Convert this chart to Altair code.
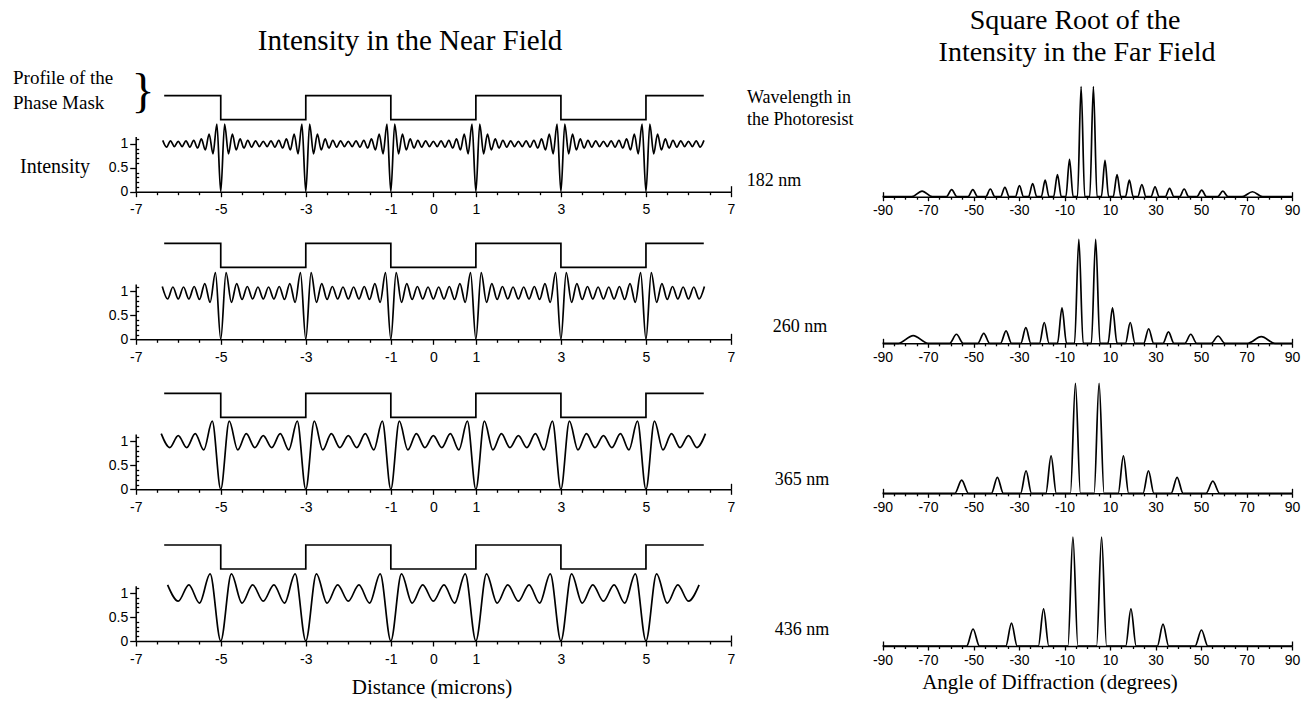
import altair as alt
import pandas as pd

W, H = 1312, 702

# ---------------- texts ----------------
left_title = "Intensity in the Near Field"
right_title = ["Square Root of the", "Intensity in the Far Field"]
mask_label = ["Profile of the", "Phase Mask"]
intensity_label = "Intensity"
wl_header = ["Wavelength in", "the Photoresist"]
wavelengths = ["182 nm", "260 nm", "365 nm", "436 nm"]
left_xlabel = "Distance (microns)"
right_xlabel = "Angle of Diffraction (degrees)"

# ---------------- near-field axes ----------------
dist_ticks = [-7, -5, -3, -1, 0, 1, 3, 5, 7]
dist_minor = [-6.5, -6, -5.5, -4.5, -4, -3.5, -2.5, -2, -1.5, -0.5, 0.5,
              1.5, 2, 2.5, 3.5, 4, 4.5, 5.5, 6, 6.5]
int_ticks = [0, 0.5, 1]
int_minor = [0.1, 0.2, 0.3, 0.4, 0.6, 0.7, 0.8, 0.9, 1.1]

# phase-mask profile (step edges and levels)
mask_x = [-6.33, -5, -3, -1, 1, 3, 5, 6.36]
mask_level = [2.0, 1.5, 2.0, 1.5, 2.0, 1.5, 2.0, 2.0]

# near-field intensity: one mask cell (offset from the dip, intensity)
cell_start = [-7, -5, -3, -1, 1, 3, 5]
nf_off_182 = [0, 0.091, 0.182, 0.273, 0.364, 0.455, 0.545, 0.636, 0.727, 0.818, 0.909,
              1.0, 1.091, 1.182, 1.273, 1.364, 1.455, 1.545, 1.636, 1.727, 1.818, 1.909]
nf_val_182 = [0, 1.41, 0.79, 1.20, 0.87, 1.10, 0.91, 1.07, 0.93, 1.06, 0.94,
              1.05, 0.94, 1.06, 0.93, 1.07, 0.91, 1.10, 0.87, 1.20, 0.79, 1.41]
nf_off_260 = [0, 0.125, 0.25, 0.375, 0.5, 0.625, 0.75, 0.875,
              1.0, 1.125, 1.25, 1.375, 1.5, 1.625, 1.75, 1.875]
nf_val_260 = [0, 1.39, 0.77, 1.16, 0.83, 1.10, 0.84, 1.09,
              0.84, 1.09, 0.84, 1.10, 0.83, 1.16, 0.77, 1.39]
nf_off_365 = [0, 0.2, 0.4, 0.6, 0.8, 1.0, 1.2, 1.4, 1.6, 1.8]
nf_val_365 = [0, 1.42, 0.82, 1.16, 0.87, 1.12, 0.87, 1.16, 0.82, 1.42]
nf_off_436 = [0, 0.25, 0.5, 0.75, 1.0, 1.25, 1.5, 1.75]
nf_val_436 = [0, 1.40, 0.79, 1.17, 0.83, 1.17, 0.79, 1.40]

# ---------------- far-field peaks ----------------
angle_ticks = [-90, -70, -50, -30, -10, 10, 30, 50, 70, 90]
angle_minor = [-85, -80, -75, -65, -60, -55, -45, -40, -35, -25, -20, -15, -5, 0, 5,
               15, 20, 25, 35, 40, 45, 55, 60, 65, 75, 80, 85]
angle_ends = [-90, 90]

ff_c_182 = [-72.6, -59.6, -50.3, -42.6, -36.2, -29.8, -24.0, -18.5, -13.1, -7.8, -2.7,
            2.7, 7.8, 13.1, 18.5, 24.0, 29.8, 36.2, 42.6, 50.3, 59.6, 72.6]
ff_h_182 = [0.05, 0.065, 0.065, 0.07, 0.085, 0.10, 0.12, 0.15, 0.20, 0.34, 1.0,
            1.0, 0.33, 0.20, 0.15, 0.11, 0.09, 0.075, 0.07, 0.06, 0.05, 0.045]
ff_w_182 = [4.5, 2.3, 2.1, 2.0, 1.9, 1.8, 1.8, 1.7, 1.7, 1.6, 1.6,
            1.6, 1.6, 1.7, 1.7, 1.8, 1.8, 1.9, 2.0, 2.1, 2.3, 4.5]

ff_c_260 = [-76.5, -57.5, -45.5, -35.7, -27.0, -18.9, -11.1, -3.7,
            3.7, 11.1, 18.9, 27.0, 35.7, 45.5, 57.5, 76.5]
ff_h_260 = [0.074, 0.087, 0.096, 0.12, 0.15, 0.20, 0.34, 1.0,
            1.0, 0.34, 0.20, 0.14, 0.11, 0.087, 0.07, 0.064]
ff_w_260 = [6.5, 3.0, 2.6, 2.4, 2.2, 2.1, 2.0, 1.9,
            1.9, 2.0, 2.1, 2.2, 2.4, 2.6, 3.0, 6.0]

ff_c_365 = [-55.2, -39.5, -26.9, -15.9, -5.2, 5.2, 15.9, 26.9, 39.5, 55.2]
ff_h_365 = [0.12, 0.145, 0.205, 0.34, 1.0, 1.0, 0.34, 0.205, 0.145, 0.11]
ff_w_365 = [3.0, 2.6, 2.4, 2.3, 2.2, 2.2, 2.3, 2.4, 2.6, 3.0]

ff_c_436 = [-50.2, -33.3, -19.2, -6.3, 6.3, 19.2, 33.3, 50.2]
ff_h_436 = [0.156, 0.21, 0.34, 1.0, 1.0, 0.34, 0.20, 0.147]
ff_w_436 = [2.8, 2.5, 2.3, 2.2, 2.2, 2.3, 2.5, 2.8]

# ---------------- layout (pixels) ----------------
L_X = [135.7, 731.0]
R_X = [882.5, 1292.0]
left_axis_y = [191.7, 339.3, 489.3, 641.0]
UNIT = 48.0
right_axis_y = [196.7, 343.3, 493.3, 646.0]
right_peak_px = [110, 104, 110, 109]

SANS = "Liberation Sans"
SERIF = "Liberation Serif"
LW = 1.7


def nf_frame(offsets, values):
    xs, ys = [], []
    for s in cell_start:
        for o, v in zip(offsets, values):
            x = s + o
            if -6.45 <= x <= 6.45:
                xs.append(round(x, 4))
                ys.append(v)
    return pd.DataFrame({"x": xs, "y": ys})


def ff_frame(centers, heights, halfw):
    xs, ys = [-90.0], [0.0]
    for c, h, w in zip(centers, heights, halfw):
        xs += [c - w, c, c + w]
        ys += [0.0, h, 0.0]
    xs.append(90.0)
    ys.append(0.0)
    return pd.DataFrame({"x": xs, "y": ys})


def lab():
    return "'' + datum.value"


def left_panel(r, offsets, values):
    y0 = left_axis_y[r]
    xs = alt.Scale(domain=[-7, 7], range=L_X, nice=False, zero=False)
    ys = alt.Scale(domain=[0, 1.15], range=[y0, y0 - 1.15 * UNIT], nice=False, zero=False)
    curve = alt.Chart(nf_frame(offsets, values)).mark_line(
        color="black", strokeWidth=LW, interpolate="monotone").encode(
        x=alt.X("x:Q", scale=xs, axis=alt.Axis(
            orient="bottom", offset=y0 - H, values=dist_ticks, tickSize=5,
            labelPadding=6, title=None, labelExpr=lab(), labelOverlap=False,
            labelFlush=False)),
        y=alt.Y("y:Q", scale=ys, axis=alt.Axis(
            orient="left", offset=-L_X[0], values=int_ticks, tickSize=6,
            labelPadding=2, title=None, labelExpr=lab(), labelOverlap=False,
            labelFlush=False)),
    )
    mask = alt.Chart(pd.DataFrame({"x": mask_x, "y": mask_level})).mark_line(
        color="black", strokeWidth=LW, interpolate="step-after").encode(
        x=alt.X("x:Q", scale=xs, axis=alt.Axis(
            orient="bottom", offset=y0 - H, values=dist_minor, tickSize=3,
            labels=False, domain=False, title=None)),
        y=alt.Y("y:Q", scale=ys, axis=alt.Axis(
            orient="right", offset=L_X[0] - W, values=int_minor, tickSize=3,
            labels=False, domain=False, title=None)),
    )
    ends = alt.Chart(pd.DataFrame({"x": [7], "y": [0]})).mark_point(opacity=0).encode(
        x=alt.X("x:Q", scale=xs, axis=alt.Axis(
            orient="top", offset=-y0, values=[7], tickSize=6,
            labels=False, domain=False, title=None)),
        y=alt.Y("y:Q", scale=ys, axis=None),
    )
    return [curve, mask, ends]


def right_panel(r, centers, heights, halfw):
    y0 = right_axis_y[r]
    xs = alt.Scale(domain=[-90, 90], range=R_X, nice=False, zero=False)
    ys = alt.Scale(domain=[0, 1], range=[y0, y0 - right_peak_px[r]], nice=False, zero=False)
    line = alt.Chart(ff_frame(centers, heights, halfw)).mark_line(
        color="black", strokeWidth=LW, interpolate="monotone").encode(
        x=alt.X("x:Q", scale=xs, axis=alt.Axis(
            orient="bottom", offset=y0 - H, values=angle_ticks, tickSize=4,
            labelPadding=3, title=None, labelExpr=lab(), labelOverlap=False,
            labelFlush=False)),
        y=alt.Y("y:Q", scale=ys, axis=None),
    )
    minor = alt.Chart(pd.DataFrame({"x": [0], "y": [0]})).mark_point(opacity=0).encode(
        x=alt.X("x:Q", scale=xs, axis=alt.Axis(
            orient="bottom", offset=y0 - H, values=angle_minor, tickSize=2.5,
            labels=False, domain=False, title=None)),
        y=alt.Y("y:Q", scale=ys, axis=None),
    )
    ends = alt.Chart(pd.DataFrame({"x": [0], "y": [0]})).mark_point(opacity=0).encode(
        x=alt.X("x:Q", scale=xs, axis=alt.Axis(
            orient="top", offset=-y0, values=angle_ends, tickSize=5,
            labels=False, domain=False, title=None)),
        y=alt.Y("y:Q", scale=ys, axis=None),
    )
    return [line, minor, ends]


def txt(s, x, y, size, align="center", font=SERIF):
    return alt.Chart(pd.DataFrame({"t": [s]})).mark_text(
        align=align, baseline="middle", fontSize=size, font=font, color="black").encode(
        x=alt.value(x), y=alt.value(y), text="t:N")


layers = []
nf = [(nf_off_182, nf_val_182), (nf_off_260, nf_val_260),
      (nf_off_365, nf_val_365), (nf_off_436, nf_val_436)]
ff = [(ff_c_182, ff_h_182, ff_w_182), (ff_c_260, ff_h_260, ff_w_260),
      (ff_c_365, ff_h_365, ff_w_365), (ff_c_436, ff_h_436, ff_w_436)]
for r in range(4):
    layers += left_panel(r, *nf[r])
    layers += right_panel(r, *ff[r])

layers += [
    txt(left_title, 410, 41, 29),
    txt(right_title[0], 1075, 21, 28),
    txt(right_title[1], 1077, 53, 28),
    txt(mask_label[0], 13, 78, 19, align="left"),
    txt(mask_label[1], 13, 103, 19, align="left"),
    txt("}", 143, 93, 48),
    txt(intensity_label, 55, 167, 20),
    txt(wl_header[0], 747, 98, 18, align="left"),
    txt(wl_header[1], 747, 120, 18, align="left"),
    txt(wavelengths[0], 774, 181, 18),
    txt(wavelengths[1], 800, 327, 18),
    txt(wavelengths[2], 802, 480, 18),
    txt(wavelengths[3], 802, 630, 18),
    txt(left_xlabel, 432, 688, 21),
    txt(right_xlabel, 1050, 683, 21),
]

chart = alt.layer(*layers).resolve_scale(
    x="independent", y="independent"
).properties(
    width=W, height=H, padding=0,
    autosize=alt.AutoSizeParams(type="none"),
    background="white",
).configure_view(stroke=None).configure_axis(
    grid=False, domainColor="black", tickColor="black", labelColor="black",
    labelFont=SANS, labelFontSize=14, domainWidth=1.5, tickWidth=1.3,
)

chart.save("out.html", embed_options={"renderer": "svg", "actions": False})
